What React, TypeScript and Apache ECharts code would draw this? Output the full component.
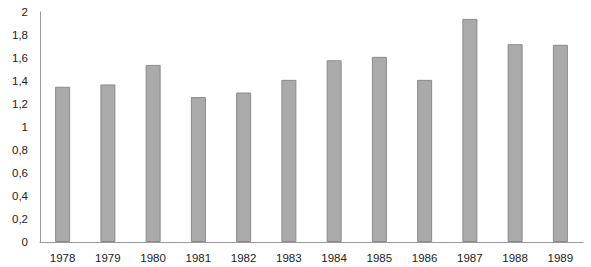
import React, { useEffect, useRef } from "react";
import * as echarts from "echarts";

const categories = ["1978", "1979", "1980", "1981", "1982", "1983", "1984", "1985", "1986", "1987", "1988", "1989"];
const values = [1.35, 1.37, 1.54, 1.26, 1.3, 1.41, 1.58, 1.61, 1.41, 1.94, 1.72, 1.715];

export default function App() {
  const ref = useRef<HTMLDivElement>(null);
  useEffect(() => {
    if (!ref.current) return;
    const chart = echarts.init(ref.current, undefined, { renderer: "svg" });
    chart.setOption({
      animation: false,
      backgroundColor: "#ffffff",
      grid: { left: 40, right: 8, top: 12, bottom: 25, containLabel: false },
      xAxis: {
        type: "category",
        data: categories,
        axisLine: { show: true, lineStyle: { color: "#9a9a9a", width: 1 } },
        axisTick: { show: false },
        axisLabel: { color: "#222", fontSize: 11.5, fontFamily: "Liberation Sans, Arial, sans-serif", margin: 10 },
      },
      yAxis: {
        type: "value",
        min: 0,
        max: 2,
        interval: 0.2,
        axisLine: { show: true, lineStyle: { color: "#9a9a9a", width: 1 } },
        axisTick: { show: false },
        splitLine: { show: false },
        axisLabel: {
          color: "#222",
          fontSize: 11.5,
          fontFamily: "Liberation Sans, Arial, sans-serif",
          margin: 12,
          padding: [0, 0, 5, 0],
          formatter: (v: number) => {
            const r = Math.round(v * 10) / 10;
            return String(r).replace(".", ",");
          },
        },
      },
      series: [
        {
          type: "bar",
          data: values,
          barWidth: 15,
          itemStyle: { color: "#a9aaa9", borderColor: "#8a8a8a", borderWidth: 1 },
        },
      ],
    });
    return () => chart.dispose();
  }, []);
  return <div ref={ref} style={{ width: 591, height: 267, position: "absolute", left: 0, top: 0 }} />;
}
